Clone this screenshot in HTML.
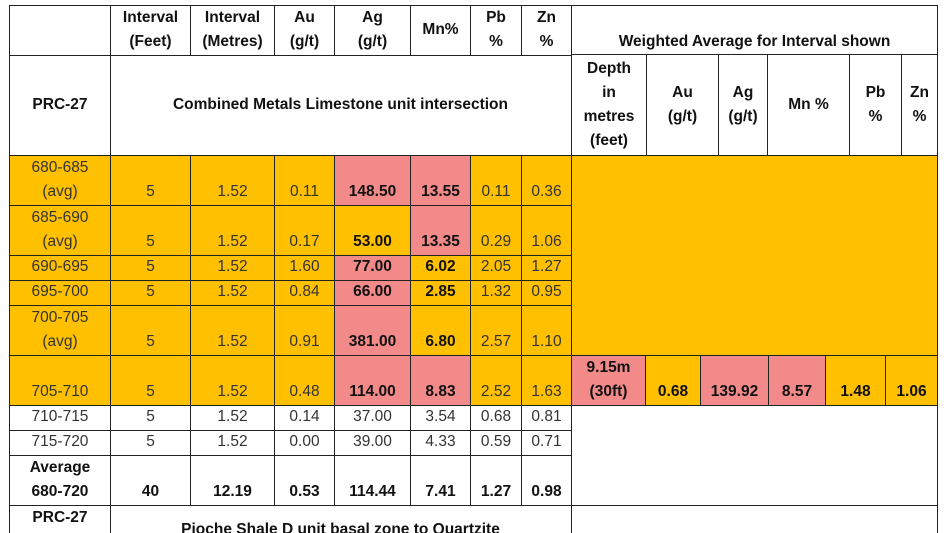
<!DOCTYPE html>
<html><head><meta charset="utf-8"><style>
html{height:533px;overflow:hidden}
body{margin:0;width:950px;height:533px;background:#fff;overflow:hidden;position:relative;font-family:"Liberation Sans",sans-serif;color:#333}
.c{position:absolute;box-sizing:border-box;border:1px solid #222;display:flex;align-items:flex-end;justify-content:center;text-align:center;font-size:15.5px;line-height:24px;padding-bottom:1px;overflow:hidden}
.y{background:#FFC000}.p{background:#F28A8A}
.b{font-weight:bold;color:#111}
.m{align-items:center}
</style></head><body>
<!-- header -->
<div class="c" style="left:9px;top:5px;width:102px;height:51px"></div>
<div class="c b" style="left:110px;top:5px;width:81px;height:51px">Interval<br>(Feet)</div>
<div class="c b" style="left:190px;top:5px;width:85px;height:51px">Interval<br>(Metres)</div>
<div class="c b" style="left:274px;top:5px;width:61px;height:51px">Au<br>(g/t)</div>
<div class="c b" style="left:334px;top:5px;width:77px;height:51px">Ag<br>(g/t)</div>
<div class="c b m" style="left:410px;top:5px;width:61px;height:51px">Mn%</div>
<div class="c b" style="left:470px;top:5px;width:52px;height:51px">Pb<br>%</div>
<div class="c b" style="left:521px;top:5px;width:51px;height:51px">Zn<br>%</div>
<div class="c b" style="left:571px;top:5px;width:367px;height:50px;padding-bottom:0">Weighted Average for Interval shown</div>
<!-- PRC row -->
<div class="c b m" style="left:9px;top:55px;width:102px;height:101px">PRC-27</div>
<div class="c b m" style="left:110px;top:55px;width:462px;height:101px;border-left:none">Combined Metals Limestone unit intersection</div>
<div class="c b m" style="left:571px;top:54px;width:76px;height:102px">Depth<br>in<br>metres<br>(feet)</div>
<div class="c b m" style="left:646px;top:54px;width:73px;height:102px">Au<br>(g/t)</div>
<div class="c b m" style="left:718px;top:54px;width:50px;height:102px">Ag<br>(g/t)</div>
<div class="c b m" style="left:767px;top:54px;width:83px;height:102px">Mn %</div>
<div class="c b m" style="left:849px;top:54px;width:53px;height:102px">Pb<br>%</div>
<div class="c b m" style="left:901px;top:54px;width:37px;height:102px">Zn<br>%</div>
<div class="c y" style="left:571px;top:155px;width:367px;height:201px"></div>
<!-- r1 -->
<div class="c y" style="left:9px;top:155px;width:102px;height:51px">680-685<br>(avg)</div>
<div class="c y" style="left:110px;top:155px;width:81px;height:51px">5</div>
<div class="c y" style="left:190px;top:155px;width:85px;height:51px">1.52</div>
<div class="c y" style="left:274px;top:155px;width:61px;height:51px">0.11</div>
<div class="c p b" style="left:334px;top:155px;width:77px;height:51px">148.50</div>
<div class="c p b" style="left:410px;top:155px;width:61px;height:51px">13.55</div>
<div class="c y" style="left:470px;top:155px;width:52px;height:51px">0.11</div>
<div class="c y" style="left:521px;top:155px;width:51px;height:51px">0.36</div>
<!-- r2 -->
<div class="c y" style="left:9px;top:205px;width:102px;height:51px">685-690<br>(avg)</div>
<div class="c y" style="left:110px;top:205px;width:81px;height:51px">5</div>
<div class="c y" style="left:190px;top:205px;width:85px;height:51px">1.52</div>
<div class="c y" style="left:274px;top:205px;width:61px;height:51px">0.17</div>
<div class="c y b" style="left:334px;top:205px;width:77px;height:51px">53.00</div>
<div class="c p b" style="left:410px;top:205px;width:61px;height:51px">13.35</div>
<div class="c y" style="left:470px;top:205px;width:52px;height:51px">0.29</div>
<div class="c y" style="left:521px;top:205px;width:51px;height:51px">1.06</div>
<!-- r3 -->
<div class="c y" style="left:9px;top:255px;width:102px;height:26px">690-695</div>
<div class="c y" style="left:110px;top:255px;width:81px;height:26px">5</div>
<div class="c y" style="left:190px;top:255px;width:85px;height:26px">1.52</div>
<div class="c y" style="left:274px;top:255px;width:61px;height:26px">1.60</div>
<div class="c p b" style="left:334px;top:255px;width:77px;height:26px">77.00</div>
<div class="c y b" style="left:410px;top:255px;width:61px;height:26px">6.02</div>
<div class="c y" style="left:470px;top:255px;width:52px;height:26px">2.05</div>
<div class="c y" style="left:521px;top:255px;width:51px;height:26px">1.27</div>
<!-- r4 -->
<div class="c y" style="left:9px;top:280px;width:102px;height:26px">695-700</div>
<div class="c y" style="left:110px;top:280px;width:81px;height:26px">5</div>
<div class="c y" style="left:190px;top:280px;width:85px;height:26px">1.52</div>
<div class="c y" style="left:274px;top:280px;width:61px;height:26px">0.84</div>
<div class="c p b" style="left:334px;top:280px;width:77px;height:26px">66.00</div>
<div class="c y b" style="left:410px;top:280px;width:61px;height:26px">2.85</div>
<div class="c y" style="left:470px;top:280px;width:52px;height:26px">1.32</div>
<div class="c y" style="left:521px;top:280px;width:51px;height:26px">0.95</div>
<!-- r5 -->
<div class="c y" style="left:9px;top:305px;width:102px;height:51px">700-705<br>(avg)</div>
<div class="c y" style="left:110px;top:305px;width:81px;height:51px">5</div>
<div class="c y" style="left:190px;top:305px;width:85px;height:51px">1.52</div>
<div class="c y" style="left:274px;top:305px;width:61px;height:51px">0.91</div>
<div class="c p b" style="left:334px;top:305px;width:77px;height:51px">381.00</div>
<div class="c y b" style="left:410px;top:305px;width:61px;height:51px">6.80</div>
<div class="c y" style="left:470px;top:305px;width:52px;height:51px">2.57</div>
<div class="c y" style="left:521px;top:305px;width:51px;height:51px">1.10</div>
<!-- r6 -->
<div class="c y" style="left:9px;top:355px;width:102px;height:51px">705-710</div>
<div class="c y" style="left:110px;top:355px;width:81px;height:51px">5</div>
<div class="c y" style="left:190px;top:355px;width:85px;height:51px">1.52</div>
<div class="c y" style="left:274px;top:355px;width:61px;height:51px">0.48</div>
<div class="c p b" style="left:334px;top:355px;width:77px;height:51px">114.00</div>
<div class="c p b" style="left:410px;top:355px;width:61px;height:51px">8.83</div>
<div class="c y" style="left:470px;top:355px;width:52px;height:51px">2.52</div>
<div class="c y" style="left:521px;top:355px;width:51px;height:51px">1.63</div>
<div class="c p b" style="left:571px;top:355px;width:75px;height:51px">9.15m<br>(30ft)</div>
<div class="c y b" style="left:645px;top:355px;width:56px;height:51px">0.68</div>
<div class="c p b" style="left:700px;top:355px;width:69px;height:51px">139.92</div>
<div class="c p b" style="left:768px;top:355px;width:58px;height:51px">8.57</div>
<div class="c y b" style="left:825px;top:355px;width:61px;height:51px">1.48</div>
<div class="c y b" style="left:885px;top:355px;width:53px;height:51px">1.06</div>
<!-- r7 -->
<div class="c" style="left:9px;top:405px;width:102px;height:26px">710-715</div>
<div class="c" style="left:110px;top:405px;width:81px;height:26px">5</div>
<div class="c" style="left:190px;top:405px;width:85px;height:26px">1.52</div>
<div class="c" style="left:274px;top:405px;width:61px;height:26px">0.14</div>
<div class="c" style="left:334px;top:405px;width:77px;height:26px">37.00</div>
<div class="c" style="left:410px;top:405px;width:61px;height:26px">3.54</div>
<div class="c" style="left:470px;top:405px;width:52px;height:26px">0.68</div>
<div class="c" style="left:521px;top:405px;width:51px;height:26px">0.81</div>
<!-- r8 -->
<div class="c" style="left:9px;top:430px;width:102px;height:26px">715-720</div>
<div class="c" style="left:110px;top:430px;width:81px;height:26px">5</div>
<div class="c" style="left:190px;top:430px;width:85px;height:26px">1.52</div>
<div class="c" style="left:274px;top:430px;width:61px;height:26px">0.00</div>
<div class="c" style="left:334px;top:430px;width:77px;height:26px">39.00</div>
<div class="c" style="left:410px;top:430px;width:61px;height:26px">4.33</div>
<div class="c" style="left:470px;top:430px;width:52px;height:26px">0.59</div>
<div class="c" style="left:521px;top:430px;width:51px;height:26px">0.71</div>
<!-- avg -->
<div class="c b" style="left:9px;top:455px;width:102px;height:51px">Average<br>680-720</div>
<div class="c b" style="left:110px;top:455px;width:81px;height:51px">40</div>
<div class="c b" style="left:190px;top:455px;width:85px;height:51px">12.19</div>
<div class="c b" style="left:274px;top:455px;width:61px;height:51px">0.53</div>
<div class="c b" style="left:334px;top:455px;width:77px;height:51px">114.44</div>
<div class="c b" style="left:410px;top:455px;width:61px;height:51px">7.41</div>
<div class="c b" style="left:470px;top:455px;width:52px;height:51px">1.27</div>
<div class="c b" style="left:521px;top:455px;width:51px;height:51px">0.98</div>
<div class="c" style="left:571px;top:405px;width:367px;height:101px;border-left:none"></div>
<!-- prc2 -->
<div class="c b" style="left:9px;top:505px;width:102px;height:40px;align-items:flex-start">PRC-27</div>
<div class="c b" style="left:110px;top:505px;width:462px;height:40px;border-left:none;align-items:flex-start;padding-top:12px">Pioche Shale D unit basal zone to Quartzite</div>
<div class="c" style="left:571px;top:505px;width:367px;height:40px;border-left:none"></div>
</body></html>
